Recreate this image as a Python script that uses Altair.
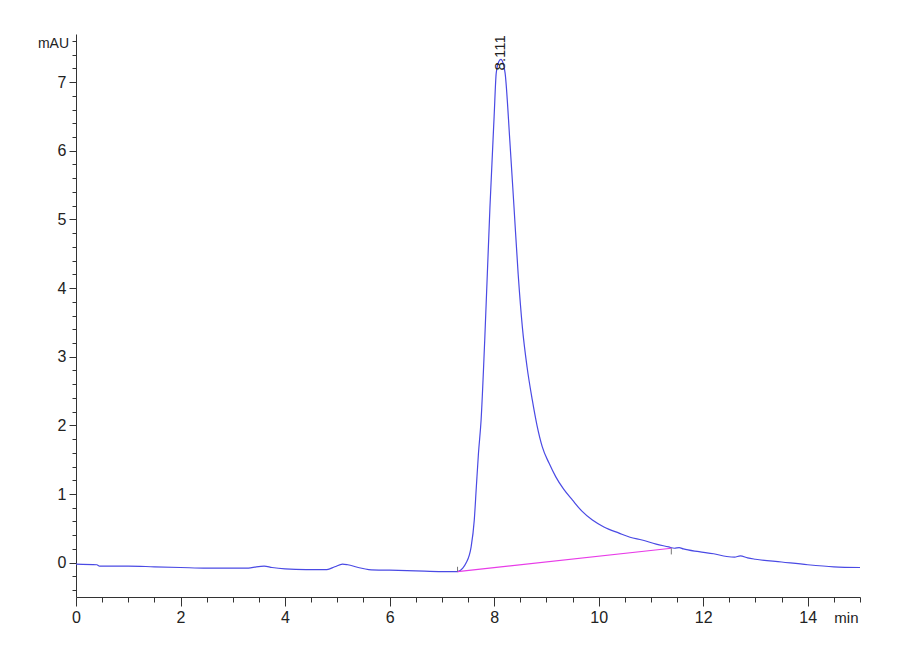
import altair as alt
import pandas as pd

# Chromatogram trace (retention time in min, absorbance in mAU)
time = [0.00, 0.40, 0.45, 1.00, 1.50, 2.00, 2.50, 3.00, 3.30, 3.45, 3.60, 3.75,
        4.00, 4.40, 4.80, 4.95, 5.10, 5.20, 5.40, 5.60, 6.00, 6.50, 7.00, 7.30,
        7.40, 7.46, 7.56, 7.62, 7.66, 7.70, 7.75, 7.82, 7.92, 8.00, 8.04, 8.09,
        8.13, 8.17, 8.21, 8.30, 8.38, 8.46, 8.54, 8.63, 8.73, 8.82, 8.92, 9.05,
        9.18, 9.33, 9.50, 9.68, 9.88, 10.10, 10.39, 10.60, 10.83, 11.10, 11.34,
        11.45, 11.54, 11.62, 11.92, 12.20, 12.45, 12.60, 12.71, 12.85, 13.00,
        13.50, 14.00, 14.50, 15.00]
mau = [-0.02, -0.03, -0.05, -0.05, -0.06, -0.07, -0.08, -0.08, -0.08, -0.06, -0.05, -0.07,
       -0.09, -0.10, -0.10, -0.06, -0.02, -0.03, -0.07, -0.10, -0.11, -0.12, -0.13, -0.13,
       -0.08, -0.01, 0.23, 0.62, 1.11, 1.59, 2.07, 3.24, 5.18, 6.50, 7.13, 7.30,
       7.33, 7.28, 7.13, 6.15, 5.18, 4.20, 3.43, 2.85, 2.37, 2.00, 1.69, 1.45,
       1.25, 1.07, 0.91, 0.75, 0.62, 0.52, 0.43, 0.37, 0.33, 0.27, 0.23,
       0.21, 0.22, 0.20, 0.16, 0.13, 0.09, 0.08, 0.10, 0.07, 0.05,
       0.01, -0.03, -0.06, -0.07]

# Integration baseline of the peak
base_time = [7.30, 11.39]
base_mau = [-0.13, 0.21]
# small marker ticks at integration start / end
mark_time = [7.30, 11.39]
mark_from = [-0.13, 0.21]
mark_to = [-0.06, 0.12]

peak_time = [8.111]
peak_mau = [7.33]
peak_label = ["8.111"]

x_ticks = [i * 0.5 for i in range(0, 31)]
y_ticks = [round(-0.4 + i * 0.2, 1) for i in range(0, 41)]

FONT = "Liberation Sans Narrow, Liberation Sans, Arial, sans-serif"
AXC = "#333333"

x_axis = alt.Axis(
    values=x_ticks, grid=False, domainColor=AXC, tickColor=AXC, domainWidth=1,
    tickSize={"condition": {"test": "datum.value % 2 === 0", "value": 9}, "value": 5},
    labelExpr="datum.value % 2 === 0 ? format(datum.value, 'd') : ''",
    labelFont=FONT, labelFontSize=16, labelColor="#222222", labelPadding=3,
    labelOverlap=False, labelFlush=False,
    title="min", titleFont=FONT, titleFontSize=15, titleFontWeight="normal",
    titleColor="#222222", titleX=782, titleY=20, titleAlign="right",
    titleBaseline="middle", titleAngle=0,
)
y_axis = alt.Axis(
    values=y_ticks, grid=False, domainColor=AXC, tickColor=AXC, domainWidth=1,
    tickSize={"condition": {"test": "abs(datum.value - round(datum.value)) < 0.001", "value": 7}, "value": 4},
    labelExpr="abs(datum.value - round(datum.value)) < 0.001 ? format(round(datum.value), 'd') : ''",
    labelFont=FONT, labelFontSize=16, labelColor="#222222", labelPadding=3,
    labelOverlap=False, labelFlush=False,
    title="mAU", titleFont=FONT, titleFontSize=14, titleFontWeight="normal",
    titleColor="#222222", titleX=-23, titleY=9, titleAlign="center",
    titleBaseline="middle", titleAngle=0,
)

def X(field="time"):
    return alt.X(f"{field}:Q", scale=alt.Scale(domain=[0, 15], nice=False, zero=False), axis=x_axis)

def Y(field="mAU"):
    return alt.Y(f"{field}:Q", scale=alt.Scale(domain=[-0.5, 7.7], nice=False, zero=False), axis=y_axis)

trace_df = pd.DataFrame({"time": time, "mAU": mau})
base_df = pd.DataFrame({"time": base_time, "mAU": base_mau})
mark_df = pd.DataFrame({"time": mark_time, "mAU": mark_from, "mAU2": mark_to})
peak_df = pd.DataFrame({"time": peak_time, "mAU": peak_mau, "label": peak_label})

trace = alt.Chart(trace_df).mark_line(color="#4a4ae4", strokeWidth=1.2, interpolate="monotone").encode(
    x=X(), y=Y())
baseline = alt.Chart(base_df).mark_line(color="#e83ce8", strokeWidth=1.2).encode(x=X(), y=Y())
marks = alt.Chart(mark_df).mark_rule(color="#777777", strokeWidth=1).encode(
    x=X(), y=Y(), y2=alt.Y2("mAU2:Q"))
label = alt.Chart(peak_df).mark_text(
    angle=270, align="left", baseline="middle", dx=-11, font=FONT, fontSize=15, color="#222222"
).encode(x=X(), y=Y(), text="label:N")

chart = alt.layer(trace, baseline, marks, label).properties(
    width=784, height=563,
    background="white",
    autosize=alt.AutoSizeParams(type="none"),
    padding={"left": 68, "top": 26, "right": 1, "bottom": 55},
).configure_view(stroke=None)

chart.save("out.html", embed_options={"renderer": "svg", "actions": False})
